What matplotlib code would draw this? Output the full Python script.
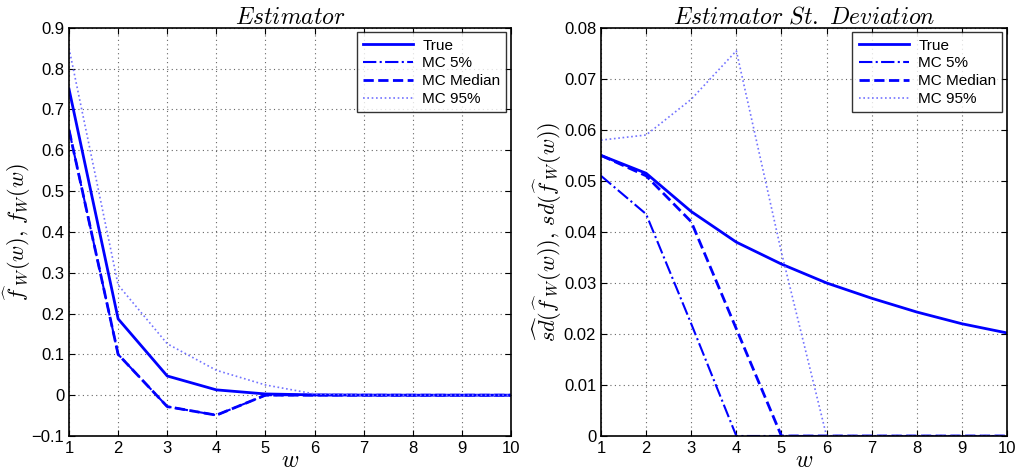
import matplotlib
matplotlib.use('Agg')
import matplotlib.pyplot as plt

plt.rcParams['font.family'] = ['Liberation Sans', 'DejaVu Sans']
plt.rcParams['mathtext.fontset'] = 'cm'

w = [1, 2, 3, 4, 5, 6, 7, 8, 9, 10]
labels = ['True', 'MC 5%', 'MC Median', 'MC 95%']

# estimator
est_true = [0.75, 0.187, 0.047, 0.013, 0.003, 0.0007, 0.0002, 0.0, 0.0, 0.0]
est_q05 = [0.65, 0.10, -0.028, -0.049, 0.0, 0.0, 0.0, 0.0, 0.0, 0.0]
est_med = [0.65, 0.10, -0.028, -0.049, 0.0, 0.0, 0.0, 0.0, 0.0, 0.0]
est_q95 = [0.85, 0.27, 0.126, 0.061, 0.025, 0.003, 0.0, 0.0, 0.0, 0.0]

# estimator st. deviation
sd_true = [0.055, 0.0515, 0.044, 0.038, 0.0337, 0.030, 0.027, 0.0243, 0.022, 0.0202]
sd_q05 = [0.051, 0.0435, 0.022, 0.0, 0.0, 0.0, 0.0, 0.0, 0.0, 0.0]
sd_med = [0.055, 0.051, 0.042, 0.021, 0.0, 0.0, 0.0, 0.0, 0.0, 0.0]
sd_q95 = [0.058, 0.059, 0.066, 0.0755, 0.036, 0.0, 0.0, 0.0, 0.0, 0.0]

fig = plt.figure(figsize=(10.27, 4.74), dpi=100)
ax1 = fig.add_axes([0.0672, 0.0802, 0.4304, 0.861])
ax2 = fig.add_axes([0.5852, 0.0802, 0.3953, 0.861])

blue = (0, 0, 1)
light = (0.45, 0.45, 1)


def draw(ax, yt, y5, ym, y95):
    ax.plot(w, yt, '-', color=blue, lw=2, label=labels[0])
    ax.plot(w, y5, '-.', color=blue, lw=1.5, label=labels[1])
    ax.plot(w, ym, '--', color=blue, lw=2, label=labels[2])
    ax.plot(w, y95, linestyle=(0, (1, 1.6)), color=light, lw=1.2, label=labels[3])
    ax.set_xlim(1, 10)
    ax.set_xticks(w)
    ax.grid(True, linestyle=(0, (1, 3)), color='#666666', lw=0.8)
    ax.tick_params(direction='in', top=True, right=True, labelsize=12, length=4)
    for s in ax.spines.values():
        s.set_linewidth(1.2)
    leg = ax.legend(loc='upper right', fancybox=False, edgecolor='black',
                    fontsize=11, borderaxespad=0.3, handlelength=3.3,
                    labelspacing=0.25, borderpad=0.4, handletextpad=0.6)
    leg.get_frame().set_linewidth(1.0)
    ax.set_xlabel('$w$', fontsize=17, labelpad=-4)


draw(ax1, est_true, est_q05, est_med, est_q95)
ax1.set_ylim(-0.1, 0.9)
ax1.set_yticks([-0.1, 0, 0.1, 0.2, 0.3, 0.4, 0.5, 0.6, 0.7, 0.8, 0.9])
ax1.set_yticklabels(['\u22120.1', '0', '0.1', '0.2', '0.3', '0.4', '0.5', '0.6', '0.7', '0.8', '0.9'])
ax1.set_ylabel(r'$\widehat{f\,}_W(w),\, f_W(w)$', fontsize=16, labelpad=-1)
ax1.set_title('$Estimator$', fontsize=17, pad=3)

draw(ax2, sd_true, sd_q05, sd_med, sd_q95)
ax2.set_ylim(0, 0.08)
ax2.set_yticks([0, 0.01, 0.02, 0.03, 0.04, 0.05, 0.06, 0.07, 0.08])
ax2.set_yticklabels(['0', '0.01', '0.02', '0.03', '0.04', '0.05', '0.06', '0.07', '0.08'])
ax2.set_ylabel(r'$\widehat{sd}(\widehat{f\,}_W(w)),\, sd(\widehat{f\,}_W(w))$', fontsize=16, labelpad=0)
ax2.set_title(r'$Estimator\ St.\ Deviation$', fontsize=17, pad=3)

fig.savefig('out.png', dpi=100)
